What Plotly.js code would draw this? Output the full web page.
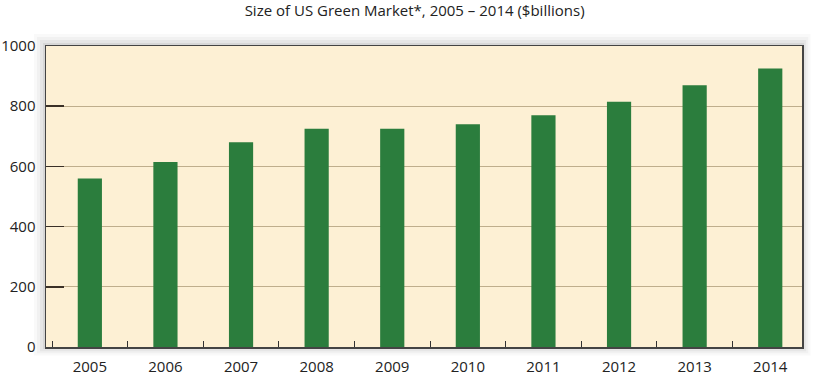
<!DOCTYPE html>
<html>
<head>
<meta charset="utf-8">
<script src="https://cdn.plot.ly/plotly-3.0.1.min.js"></script>
<style>html,body{margin:0;padding:0;background:#fff;}#chart{width:821px;height:378px;}</style>
</head>
<body>
<div id="chart"></div>
<script>
const years = ["2005","2006","2007","2008","2009","2010","2011","2012","2013","2014"];
const marketSize = [560, 615, 680, 725, 725, 740, 770, 815, 870, 925];
const yTicks = [0, 200, 400, 600, 800, 1000];

const shapes = [];
const layers = [[12,0.04],[9,0.05],[6,0.07],[3,0.10]];
layers.forEach(([d, op]) => {
  shapes.push({
    type: "rect", xref: "paper", yref: "paper", layer: "below",
    x0: -d/756, x1: 1 + (d*0.7)/756, y0: -(d*0.7)/301, y1: 1 + d/301,
    fillcolor: "#5a5a5a", opacity: op, line: {width: 0}
  });
});
shapes.push({
  type: "rect", xref: "paper", yref: "paper", layer: "below",
  x0: 0, x1: 1, y0: 0, y1: 1,
  fillcolor: "#fdf0d4", line: {width: 0}
});

const trace = {
  type: "bar",
  x: years,
  y: marketSize,
  marker: {color: "#2b7d3d", line: {width: 0}},
  hoverinfo: "x+y"
};

const font = "Open Sans, sans-serif";
const layout = {
  width: 821, height: 378,
  margin: {l: 46, r: 19, t: 46, b: 31},
  paper_bgcolor: "#ffffff",
  plot_bgcolor: "rgba(0,0,0,0)",
  title: {
    text: "Size of US Green Market*, 2005 \u2013 2014 ($billions)",
    font: {family: font, size: 15, color: "#222"},
    x: 0.505, xanchor: "center", y: 0.972, yanchor: "middle"
  },
  bargap: 0.68,
  showlegend: false,
  shapes: shapes,
  xaxis: {
    type: "category",
    range: [-0.58, 9.42],
    tickson: "boundaries",
    ticks: "inside", ticklen: 6, tickcolor: "#333", tickwidth: 1,
    showline: true, linecolor: "#444", linewidth: 1.5, mirror: true,
    showgrid: false,
    tickfont: {family: font, size: 15, color: "#222"},
    ticklabelstandoff: 5,
    fixedrange: true
  },
  yaxis: {
    range: [0, 1000],
    tickvals: yTicks,
    ticktext: yTicks.map(String),
    ticks: "inside", ticklen: 18, tickcolor: "#3a3026", tickwidth: 1.5,
    showline: true, linecolor: "#444", linewidth: 1.5, mirror: true,
    showgrid: true, gridcolor: "#bfae8c", gridwidth: 1,
    zeroline: false,
    tickfont: {family: font, size: 15, color: "#222"},
    ticklabelstandoff: 6,
    fixedrange: true
  }
};

Plotly.newPlot("chart", [trace], layout, {displayModeBar: false, staticPlot: true});
</script>
</body>
</html>
